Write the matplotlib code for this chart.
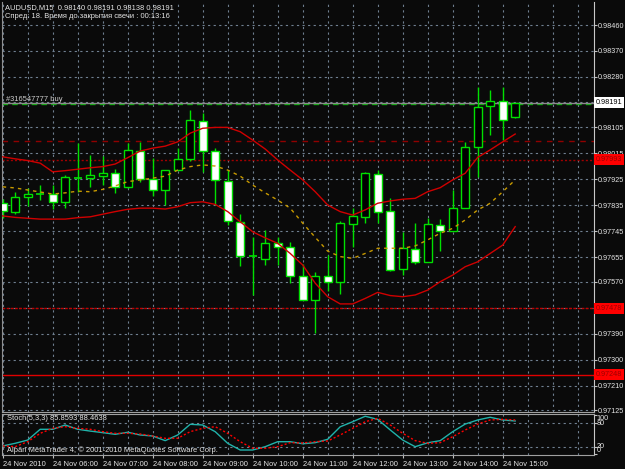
import matplotlib
matplotlib.use('Agg')
import matplotlib.pyplot as plt
from matplotlib.patches import Rectangle

plt.rcParams['font.family'] = ['Liberation Sans', 'DejaVu Sans']

# M15 AUDUSD bars, 24 Nov 2010 05:00 -> 15:15
opens = [0.97844, 0.97813, 0.97863, 0.97873, 0.97873, 0.97845, 0.97931, 0.97931, 0.97938, 0.97948,
         0.97897, 0.98024, 0.97926, 0.97887, 0.97957, 0.97994, 0.98128, 0.98024, 0.97920, 0.97778,
         0.97659, 0.97648, 0.97703, 0.97691, 0.97590, 0.97506, 0.97590, 0.97570, 0.97769, 0.97795,
         0.97942, 0.97815, 0.97613, 0.97683, 0.97637, 0.97766, 0.97747, 0.97825, 0.98038, 0.98178,
         0.98198, 0.98140]
highs = [0.97856, 0.97882, 0.97894, 0.97905, 0.97905, 0.97940, 0.98052, 0.98009, 0.98006, 0.97960,
         0.98052, 0.98055, 0.97998, 0.97957, 0.98033, 0.98165, 0.98154, 0.98034, 0.97957, 0.97804,
         0.97726, 0.97749, 0.97726, 0.97707, 0.97630, 0.97605, 0.97663, 0.97781, 0.97825, 0.97951,
         0.97957, 0.97859, 0.97743, 0.97773, 0.97790, 0.97786, 0.97888, 0.98055, 0.98244, 0.98235,
         0.98246, 0.98191]
lows = [0.97791, 0.97804, 0.97832, 0.97853, 0.97821, 0.97827, 0.97882, 0.97899, 0.97905, 0.97877,
        0.97895, 0.97917, 0.97867, 0.97836, 0.97956, 0.97990, 0.97951, 0.97836, 0.97767, 0.97626,
        0.97524, 0.97628, 0.97628, 0.97565, 0.97505, 0.97393, 0.97538, 0.97527, 0.97691, 0.97775,
        0.97773, 0.97608, 0.97593, 0.97631, 0.97637, 0.97678, 0.97746, 0.97824, 0.97932, 0.98079,
        0.98061, 0.98138]
closes = [0.97815, 0.97863, 0.97873, 0.97873, 0.97845, 0.97933, 0.97931, 0.97939, 0.97946, 0.97897,
          0.98027, 0.97927, 0.97887, 0.97957, 0.97994, 0.98131, 0.98022, 0.97923, 0.97779, 0.97660,
          0.97659, 0.97703, 0.97691, 0.97591, 0.97507, 0.97590, 0.97570, 0.97773, 0.97798, 0.97948,
          0.97811, 0.97611, 0.97686, 0.97637, 0.97769, 0.97747, 0.97825, 0.98036, 0.98177, 0.98198,
          0.98131, 0.98191]

# Bollinger bands
bb_upper = [0.98003, 0.97996, 0.97990, 0.97981, 0.97951, 0.97955, 0.97960, 0.97965, 0.97969, 0.97978,
            0.98000, 0.98023, 0.98033, 0.98040, 0.98055, 0.98085, 0.98102, 0.98105, 0.98105, 0.98090,
            0.98061, 0.98030, 0.97992, 0.97957, 0.97923, 0.97882, 0.97836, 0.97813, 0.97801, 0.97819,
            0.97842, 0.97850, 0.97856, 0.97859, 0.97882, 0.97896, 0.97923, 0.97946, 0.98001, 0.98027,
            0.98055, 0.98082]
bb_middle = [0.97899, 0.97895, 0.97888, 0.97881, 0.97874, 0.97878, 0.97884, 0.97882, 0.97890, 0.97902,
             0.97917, 0.97923, 0.97929, 0.97936, 0.97957, 0.97969, 0.97975, 0.97971, 0.97957, 0.97936,
             0.97905, 0.97878, 0.97853, 0.97825, 0.97773, 0.97724, 0.97676, 0.97657, 0.97651, 0.97668,
             0.97686, 0.97686, 0.97686, 0.97694, 0.97715, 0.97738, 0.97755, 0.97784, 0.97819, 0.97842,
             0.97882, 0.97923]
bb_lower = [0.97798, 0.97793, 0.97790, 0.97787, 0.97787, 0.97787, 0.97792, 0.97795, 0.97804, 0.97813,
            0.97821, 0.97825, 0.97825, 0.97822, 0.97830, 0.97844, 0.97847, 0.97838, 0.97813, 0.97778,
            0.97743, 0.97722, 0.97703, 0.97668, 0.97628, 0.97565, 0.97518, 0.97493, 0.97493, 0.97512,
            0.97533, 0.97522, 0.97518, 0.97524, 0.97541, 0.97570, 0.97593, 0.97622, 0.97639, 0.97668,
            0.97697, 0.97761]

# Stoch(5,3,3)
stoch_main = [21.8, 28.7, 37.0, 64.6, 64.6, 75.6, 64.6, 60.0, 56.0, 51.7, 57.0, 50.0, 47.4, 35.5,
              50.0, 77.4, 75.6, 58.5, 28.7, 11.5, 11.5, 20.0, 32.8, 32.8, 27.5, 30.3, 39.0, 71.0,
              84.0, 98.0, 90.0, 63.0, 37.0, 20.0, 30.0, 35.5, 58.5, 78.0, 88.5, 95.4, 88.5, 85.9]
stoch_signal = [22.0, 20.0, 32.8, 54.3, 67.0, 71.3, 67.0, 64.6, 58.5, 54.3, 54.3, 52.6, 47.4, 41.5,
                41.5, 58.5, 67.0, 71.3, 54.3, 32.8, 16.0, 16.0, 20.0, 30.3, 29.5, 32.8, 34.6, 50.0,
                67.0, 84.0, 92.8, 75.6, 54.3, 35.5, 28.7, 30.3, 45.6, 62.8, 78.0, 88.5, 90.0, 88.5]

price_ticks = [0.98460, 0.98370, 0.98280, 0.98105, 0.98015, 0.97925, 0.97835, 0.97745,
               0.97655, 0.97570, 0.97390, 0.97300, 0.97210, 0.97125]
hidden_ticks = [0.98192, 0.97480]
stoch_levels = [100, 80, 20, 0]
time_labels = ['24 Nov 2010', '24 Nov 06:00', '24 Nov 07:00', '24 Nov 08:00', '24 Nov 09:00',
               '24 Nov 10:00', '24 Nov 11:00', '24 Nov 12:00', '24 Nov 13:00', '24 Nov 14:00',
               '24 Nov 15:00']

bid = 0.98191
order_price = 0.98187
order_text = '#316547777 buy'
level_darkred = 0.98058
level_dotted = 0.97993
level_dashed = 0.97478
level_solid = 0.97248

bg = '#0a0a0a'
grid_col = '#6f7f90'
txt_col = '#e6e6e6'
lime = '#00e000'

W, H = 625, 469
fig = plt.figure(figsize=(6.25, 4.69), dpi=100, facecolor=bg)

# main chart: pixel x = 2.7 + 12.5*i
x0 = (2 - 2.7) / 12.5
x1 = (594 - 2.7) / 12.5
ax = fig.add_axes([2 / W, 1 - 412 / H, 592 / W, 410 / H], facecolor=bg)
ax2 = fig.add_axes([2 / W, 1 - 455 / H, 592 / W, 41 / H], facecolor=bg)

n = len(opens)
xs = list(range(n))

# candles
for i in xs:
    o, h, l, c = opens[i], highs[i], lows[i], closes[i]
    ax.vlines(i, l, h, color=lime, lw=1, zorder=3)
    if abs(c - o) < 0.00002:
        ax.hlines(o, i - 0.32, i + 0.32, color=lime, lw=1.2, zorder=4)
    else:
        face = 'black' if c > o else 'white'
        ax.add_patch(Rectangle((i - 0.32, min(o, c)), 0.64, abs(c - o),
                               facecolor=face, edgecolor=lime, lw=1, zorder=4))

# bands
ax.plot(xs, bb_upper, color='#d00000', lw=1, zorder=5)
ax.plot(xs, bb_lower, color='#d00000', lw=1, zorder=5)
ax.plot(xs, bb_middle, color='#c89a00', lw=1, dashes=(2.5, 3), zorder=5)

# levels
ax.axhline(order_price, color='#00b000', lw=1, dashes=(4, 3), zorder=2)
ax.axhline(bid, color='#8a8a8a', lw=1, zorder=2)
ax.axhline(level_darkred, color='#900000', lw=1, dashes=(4, 4), zorder=2)
ax.axhline(level_dotted, color='#a00000', lw=1, dashes=(1.5, 1.5), zorder=2)
ax.axhline(level_dashed, color='#c00000', lw=1, dashes=(2, 1), zorder=2)
ax.axhline(level_solid, color='#e00000', lw=1, zorder=2)
ax.text(0.3, order_price + 0.00004, order_text, color='#d0d0d0', fontsize=5.4,
        va='bottom', ha='left', zorder=6)

ax.set_xlim(x0, x1)
ax.set_ylim(0.98460 - 387 * 0.00003467, 0.98460 + 23 * 0.00003467)

ax.yaxis.tick_right()
ax.set_yticks(price_ticks)
ax.set_yticklabels(['%.5f' % p for p in price_ticks])
ax.set_yticks(hidden_ticks, minor=True)
ax.tick_params(axis='y', which='both', length=2, color='#c0c0c0', labelsize=5.2,
               labelcolor=txt_col, pad=1)
ax.set_xticks(range(0, 48, 2))
ax.tick_params(axis='x', length=0, labelbottom=False)
ax.grid(which='both', color=grid_col, lw=0.8, dashes=(2, 3))

# price boxes on the axis
for p, fc, tc in [(bid, 'white', 'black'), (level_dotted, '#ff0000', '#9a0000'),
                  (level_dashed, '#ff0000', '#9a0000'), (level_solid, '#ff0000', '#9a0000')]:
    ax.text(1.003, p, '%.5f' % p, transform=ax.get_yaxis_transform(), color=tc,
            fontsize=5.2, va='center', ha='left', zorder=10, clip_on=False,
            bbox=dict(boxstyle='square,pad=0.25', fc=fc, ec='none'))

ax.spines['top'].set_visible(False)
ax.spines['left'].set_color('#909090')
ax.spines['right'].set_color('#c8c8c8')
ax.spines['bottom'].set_color('#a0a0a0')

# header
fig.text(5 / W, 1 - 8 / H, 'AUDUSD,M15  0.98140 0.98191 0.98138 0.98191', color=txt_col,
         fontsize=5.4, va='center', ha='left')
fig.text(5 / W, 1 - 17 / H, 'Спред: 18. Время до закрытия свечи : 00:13:16', color=txt_col,
         fontsize=5.4, va='center', ha='left')

# stochastic
ax2.plot(xs, stoch_main, color='#20b2aa', lw=1, zorder=3)
ax2.plot(xs, stoch_signal, color='#ff0000', lw=1, dashes=(1.5, 1.5), zorder=3)
ax2.set_xlim(x0, x1)
ax2.set_ylim(-1.3, 103.8)
ax2.yaxis.tick_right()
ax2.set_yticks(stoch_levels)
ax2.tick_params(axis='y', length=2, color='#c0c0c0', labelright=False)
# MT4 puts the 100 / 0 labels just inside the panel
for v, off in zip(stoch_levels, [-8, 0, 0, 9]):
    ax2.text(1.004, v + off, str(v), transform=ax2.get_yaxis_transform(), color=txt_col,
             fontsize=5.2, va='center', ha='left', clip_on=False)
ax2.set_xticks(range(0, 44, 4))
ax2.set_xticklabels(time_labels, ha='left')
ax2.set_xticks(range(2, 48, 4), minor=True)
ax2.tick_params(axis='x', which='both', length=2, color='#c0c0c0', labelsize=5.4,
                labelcolor=txt_col, pad=2)
ax2.tick_params(axis='x', which='minor', length=0)
ax2.grid(axis='x', which='both', color=grid_col, lw=0.8, dashes=(2, 3))
for v in stoch_levels[1:3]:
    ax2.axhline(v, color=grid_col, lw=0.8, dashes=(2, 3), zorder=1)
for s in ax2.spines.values():
    s.set_color('#a0a0a0')
ax2.spines['right'].set_color('#c8c8c8')
ax2.text(0.008, 0.9, 'Stoch(5,3,3) 85.8593 88.4638', transform=ax2.transAxes, color=txt_col,
         fontsize=5.4, va='center', ha='left', zorder=6)
ax2.text(0.008, 0.13, 'Alpari MetaTrader 4, © 2001-2010 MetaQuotes Software Corp.',
         transform=ax2.transAxes, color=txt_col, fontsize=5.4, va='center', ha='left', zorder=6)

fig.savefig('out.png', dpi=100, facecolor=bg)
